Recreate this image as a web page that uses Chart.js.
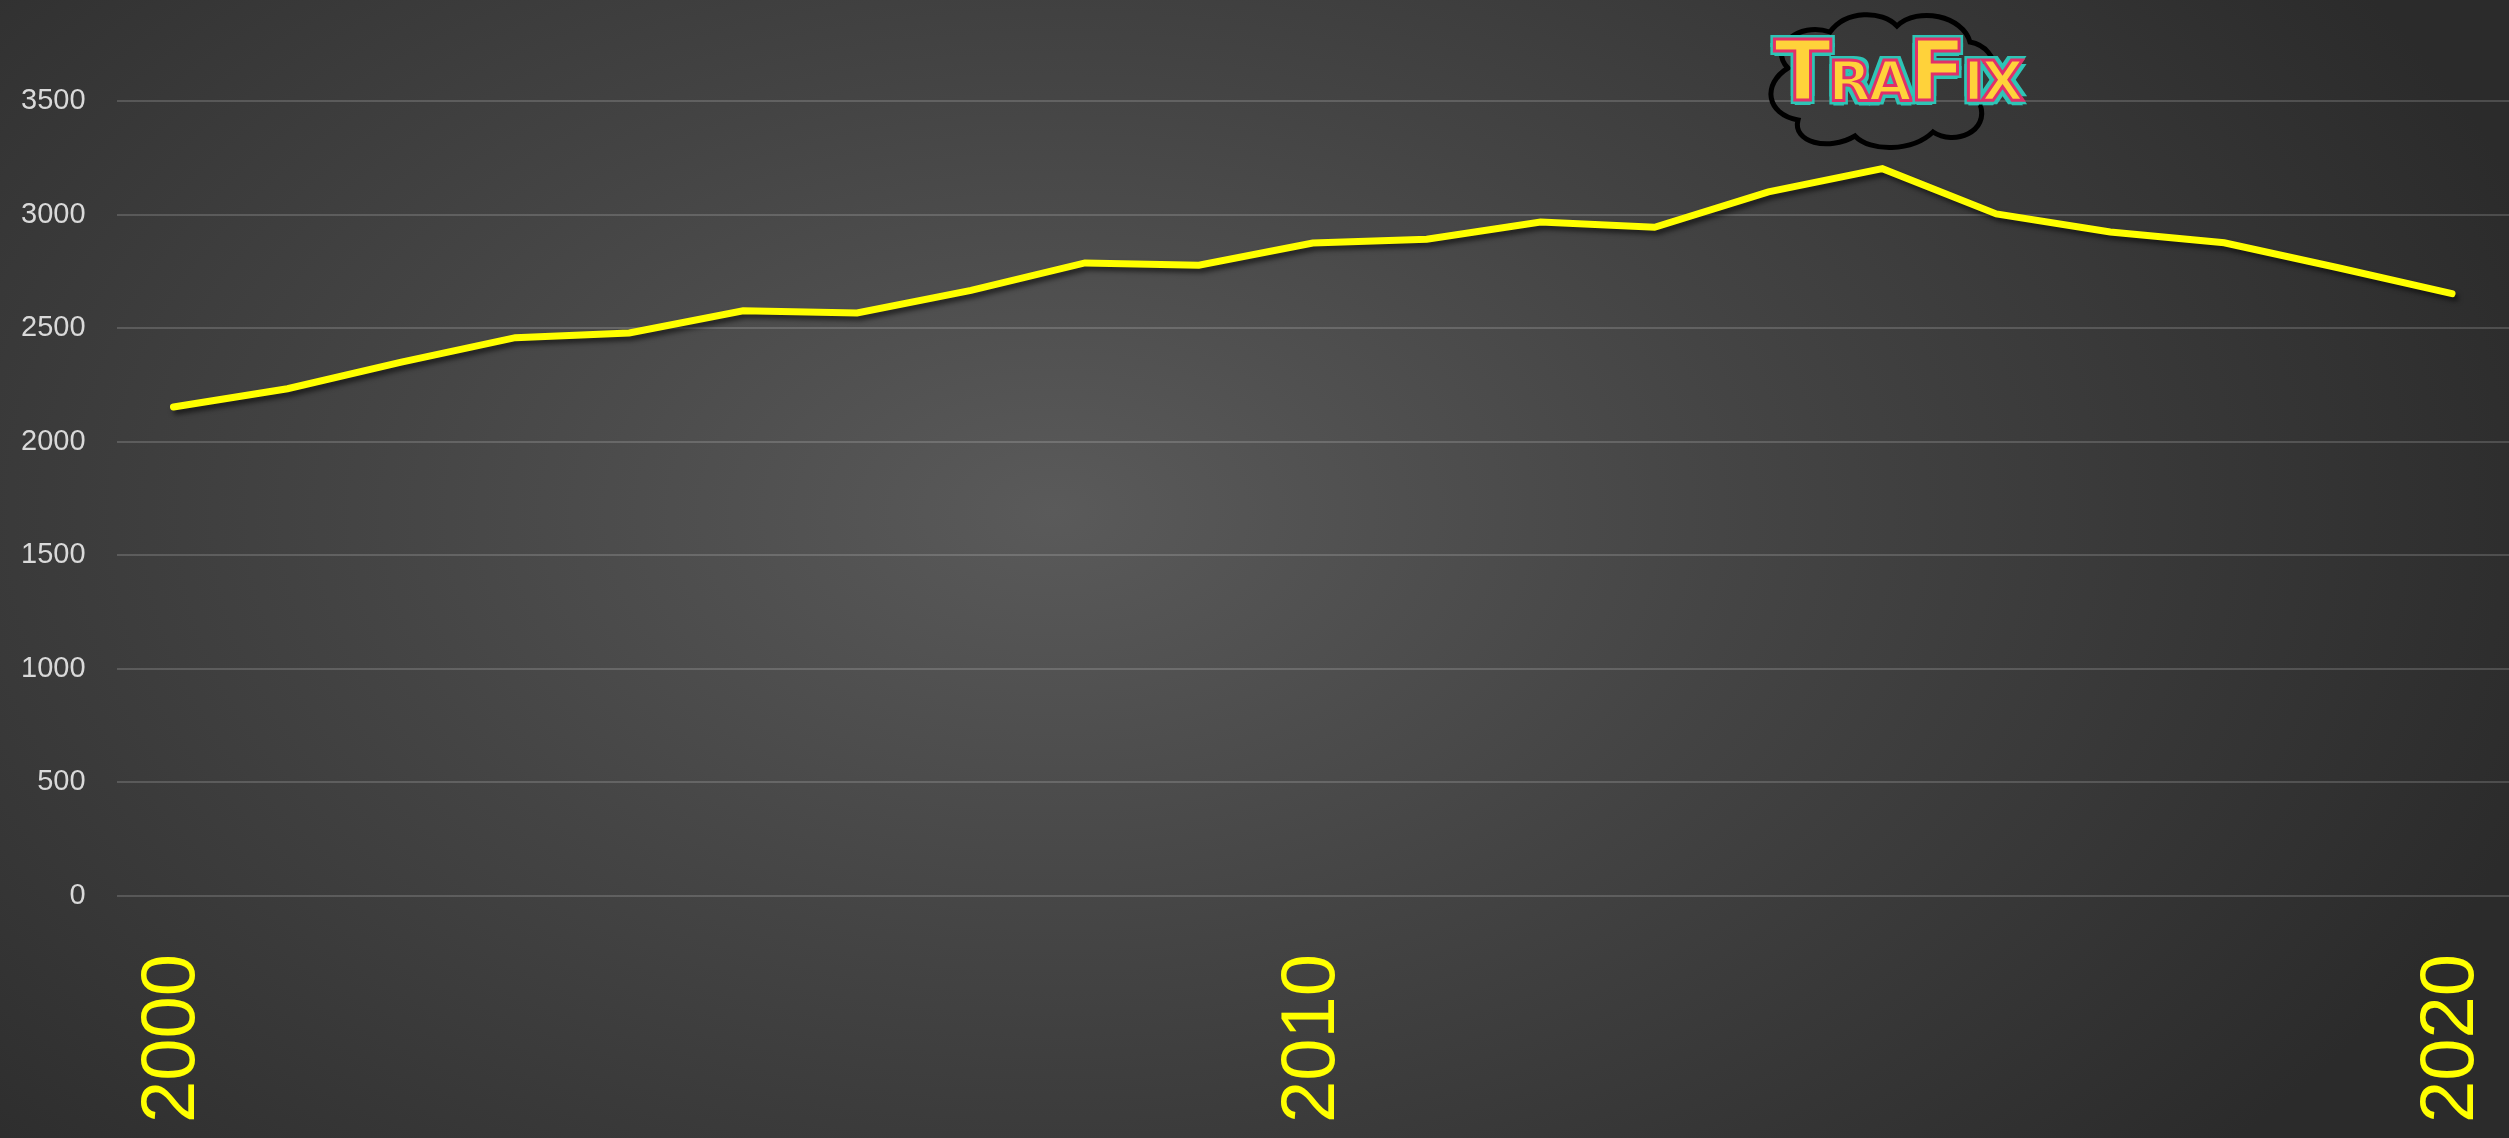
<!DOCTYPE html>
<html>
<head>
<meta charset="utf-8">
<script src="https://cdn.jsdelivr.net/npm/chart.js@4/dist/chart.umd.min.js"></script>
<style>
  html, body { margin: 0; padding: 0; }
  body { width: 2509px; height: 1138px; overflow: hidden;
    background: radial-gradient(ellipse 62% 85% at 42% 45%, #5a5a5a 0%, #444444 45%, #2b2b2b 100%); }
  #wrap { position: absolute; left: 0; top: 0; width: 2509px; height: 1138px; }
  #logo { position: absolute; left: 1758px; top: 6px; width: 250px; height: 150px; }
  #cloud { position: absolute; left: 0; top: 0; }
  #logotext { position: absolute; left: 16px; top: 16px; font-family: "DejaVu Sans", sans-serif; font-weight: bold;
    color: #ffd23a; -webkit-text-stroke: 3px #e0306a;
    text-shadow: 4px 4px 0 #2ec4b6, -4px -4px 0 #2ec4b6, 4px -4px 0 #2ec4b6, -4px 4px 0 #2ec4b6, 0 5px 0 #2ec4b6;
    white-space: nowrap; letter-spacing: -3px; }
  #logotext .big { font-size: 84px; }
  #logotext .sm { font-size: 56px; }
</style>
</head>
<body>
<div id="wrap"><canvas id="c" width="2509" height="1138"></canvas></div>
<div id="logo">
  <svg id="cloud" width="250" height="150" viewBox="0 0 250 150">
    <path d="M30 62 C10 42 40 15 72 26 C88 4 124 4 139 20 C160 0 205 10 212 36 C244 42 244 84 222 98 C232 126 196 140 175 126 C154 146 112 146 97 130 C70 146 34 136 40 114 C8 108 4 78 30 62 Z" fill="none" stroke="#000" stroke-width="5"/>
  </svg>
  <div id="logotext"><span class="big">T</span><span class="sm">RA</span><span class="big">F</span><span class="sm">IX</span></div>
</div>
<script>
const years = ['2000','2001','2002','2003','2004','2005','2006','2007','2008','2009','2010',
               '2011','2012','2013','2014','2015','2016','2017','2018','2019','2020'];
const values = [2153, 2233, 2350, 2458, 2479, 2576, 2567, 2666, 2787, 2777, 2875,
                2891, 2967, 2944, 3100, 3202, 3003, 2923, 2876, 2766, 2652];
const xTickLabels = ['2000', '2010', '2020'];
const yMin = 0, yMax = 3500, yStep = 500;

const shadowPlugin = {
  id: 'lineShadow',
  beforeDatasetsDraw(chart) {
    const ctx = chart.ctx;
    ctx.save();
    ctx.shadowColor = 'rgba(0,0,0,0.55)';
    ctx.shadowBlur = 5;
    ctx.shadowOffsetX = 3;
    ctx.shadowOffsetY = 4;
  },
  afterDatasetsDraw(chart) { chart.ctx.restore(); }
};

new Chart(document.getElementById('c'), {
  type: 'line',
  data: {
    labels: years,
    datasets: [{
      data: values,
      borderColor: '#ffff00',
      borderWidth: 7,
      pointRadius: 0,
      tension: 0,
      fill: false,
      borderCapStyle: 'round',
      borderJoinStyle: 'miter'
    }]
  },
  options: {
    responsive: false,
    animation: false,
    devicePixelRatio: 1,
    layout: { padding: { left: -10, right: 0, top: 101, bottom: -43 } },
    plugins: { legend: { display: false }, tooltip: { enabled: false } },
    scales: {
      x: {
        type: 'category',
        offset: true,
        grid: { display: false, drawTicks: false },
        border: { display: false },
        afterFit(scale) { scale.paddingLeft = 0; scale.paddingRight = 0; },
        ticks: {
          autoSkip: false,
          minRotation: 90,
          maxRotation: 90,
          padding: 58,
          color: '#ffff00',
          font: { family: 'Liberation Sans', size: 76 },
          callback: function(v) { const l = this.getLabelForValue(v); return xTickLabels.includes(l) ? l : ''; }
        }
      },
      y: {
        min: yMin, max: yMax,
        grid: { color: 'rgba(255,255,255,0.16)', lineWidth: 2, drawTicks: false },
        border: { display: false },
        ticks: {
          stepSize: yStep,
          padding: 31,
          color: '#d9d9d9',
          font: { family: 'Liberation Sans', size: 29 },
          callback: (v) => String(v)
        }
      }
    }
  },
  plugins: [shadowPlugin]
});
</script>
</body>
</html>
